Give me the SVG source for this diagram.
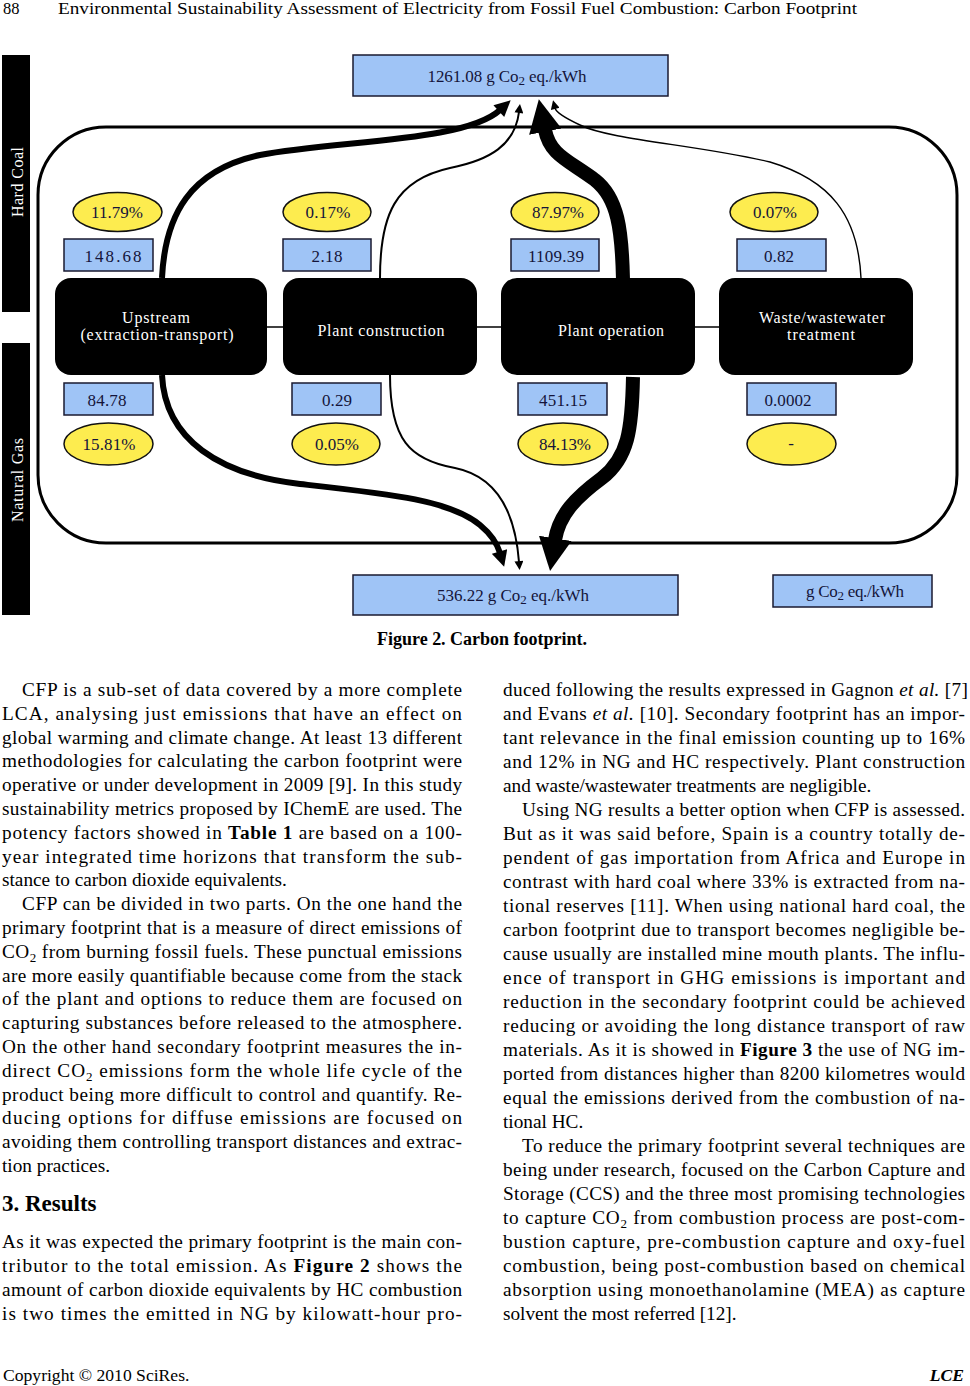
<svg xmlns="http://www.w3.org/2000/svg" width="970" height="1386" viewBox="0 0 970 1386">
<style>
.bg{fill:#ffffff}
.t{font-family:"Liberation Serif","Times New Roman",serif;font-size:19.25px;fill:#000}
.b{font-weight:bold}
.i{font-style:italic}
.sub{font-size:13px}
.hdr{font-family:"Liberation Serif","Times New Roman",serif;font-size:16.5px;fill:#000}
.cap{font-family:"Liberation Serif","Times New Roman",serif;font-size:18px;font-weight:bold;fill:#000}
.h2{font-family:"Liberation Serif","Times New Roman",serif;font-size:23px;font-weight:bold;fill:#000}
.bar{fill:#000}
.bartxt{font-family:"Liberation Serif","Times New Roman",serif;font-size:16px;fill:#fff;text-anchor:middle}
.blue{fill:#9fc4f6;stroke:#1a1a30;stroke-width:1.5}
.yel{fill:#fdec4f;stroke:#111;stroke-width:1.5}
.blk{fill:#000}
.ft{font-family:"Liberation Serif","Times New Roman",serif;font-size:17px;fill:#14143a;text-anchor:middle}
.wt{font-family:"Liberation Serif","Times New Roman",serif;font-size:16px;fill:#fff;text-anchor:middle}
.frame{fill:none;stroke:#000;stroke-width:3}
.link{fill:none;stroke:#000;stroke-width:1.5}
.c6{fill:none;stroke:#000;stroke-width:6}
.c2{fill:none;stroke:#000;stroke-width:2}
.c1{fill:none;stroke:#000;stroke-width:1.4}
.c14{fill:none;stroke:#000;stroke-width:14}
</style>
<defs>
<marker id="aBig" markerUnits="userSpaceOnUse" viewBox="0 0 10 10" refX="0.5" refY="5" markerWidth="33" markerHeight="38" orient="auto"><path d="M0,0 L10,5 L0,10 z" fill="#000"/></marker>
<marker id="aMid" markerUnits="userSpaceOnUse" viewBox="0 0 10 10" refX="1" refY="5" markerWidth="17" markerHeight="16" orient="auto"><path d="M0,0 L10,5 L0,10 z" fill="#000"/></marker>
<marker id="aSm" markerUnits="userSpaceOnUse" viewBox="0 0 10 10" refX="1" refY="5" markerWidth="11" markerHeight="9" orient="auto"><path d="M0,0 L10,5 L0,10 z" fill="#000"/></marker>
</defs>
<rect class="bg" x="0" y="0" width="970" height="1386"/>

<g id="header">
<text class="hdr" x="3" y="14">88</text>
<text class="hdr" x="58" y="14" textLength="799" lengthAdjust="spacingAndGlyphs">Environmental Sustainability Assessment of Electricity from Fossil Fuel Combustion: Carbon Footprint</text>
</g>

<g id="figure">
<g id="bar-hardcoal"><rect class="bar" x="2" y="55" width="28" height="257"/><text class="bartxt" transform="translate(23,182) rotate(-90)" textLength="70">Hard Coal</text></g>
<g id="bar-naturalgas"><rect class="bar" x="2" y="343" width="28" height="272"/><text class="bartxt" transform="translate(23,480) rotate(-90)" textLength="84">Natural Gas</text></g>

<path id="frame" class="frame" d="M106,127 H889 A68,68 0 0 1 957,195 V475 A68,68 0 0 1 889,543 H106 A68,68 0 0 1 38,475 V195 A68,68 0 0 1 106,127 Z"/>

<g id="links">
<line class="link" x1="267" y1="327" x2="283" y2="327"/>
<line class="link" x1="477" y1="327" x2="501" y2="327"/>
<line class="link" x1="695" y1="327" x2="719" y2="327"/>
</g>

<g id="connectors">
<path class="c6" d="M162,278 C165,215 190,170 260,155 C340,140 465,142 500,110" marker-end="url(#aMid)"/>
<path class="c2" d="M380,278 C380,215 395,180 450,168 C490,160 515,145 519,112" marker-end="url(#aSm)"/>
<path class="c14" d="M623,280 C622,230 618,198 595,180 C568,160 550,155 545,130" marker-end="url(#aBig)"/>
<path class="c1" d="M861,278 C858,215 830,180 770,162 C700,145 610,140 580,125 C565,118 556,112 555,108" marker-end="url(#aSm)"/>
<path class="c6" d="M162,375 C165,440 220,475 300,484 C390,494 450,500 480,525 C492,535 497,543 500,553" marker-end="url(#aMid)"/>
<path class="c2" d="M390,375 C390,440 410,460 455,468 C495,476 515,510 519,562" marker-end="url(#aSm)"/>
<path class="c14" d="M633,377 C632,430 628,458 602,478 C575,498 559,515 555,540" marker-end="url(#aBig)"/>
</g>

<g id="total-hc"><rect class="blue" x="353" y="55" width="315" height="41"/><text class="ft" x="507" y="82" textLength="159">1261.08 g Co<tspan class="sub" dy="3">2</tspan><tspan dy="-3"> eq./kWh</tspan></text></g>
<g id="total-ng"><rect class="blue" x="353" y="575" width="325" height="40"/><text class="ft" x="513" y="601" textLength="152">536.22 g Co<tspan class="sub" dy="3">2</tspan><tspan dy="-3"> eq./kWh</tspan></text></g>
<g id="legend"><rect class="blue" x="773" y="575" width="159" height="32"/><text class="ft" x="855" y="597" textLength="98">g Co<tspan class="sub" dy="3">2</tspan><tspan dy="-3"> eq./kWh</tspan></text></g>

<g id="upstream"><rect class="blk" x="55" y="278" width="212" height="97" rx="16"/><text class="wt" x="156" y="323" textLength="68">Upstream</text><text class="wt" x="157" y="340" textLength="153">(extraction-transport)</text></g>
<g id="plant-construction"><rect class="blk" x="283" y="278" width="194" height="97" rx="16"/><text class="wt" x="381" y="336" textLength="127">Plant construction</text></g>
<g id="plant-operation"><rect class="blk" x="501" y="278" width="194" height="97" rx="16"/><text class="wt" x="611" y="336" textLength="106">Plant operation</text></g>
<g id="waste"><rect class="blk" x="719" y="278" width="194" height="97" rx="16"/><text class="wt" x="822" y="323" textLength="126">Waste/wastewater</text><text class="wt" x="821" y="340" textLength="68">treatment</text></g>

<g id="hc-upstream"><ellipse class="yel" cx="117.5" cy="212" rx="44.5" ry="19.5"/><text class="ft" x="117" y="218" textLength="52">11.79%</text><rect class="blue" x="64" y="239" width="89" height="32"/><text class="ft" x="113" y="262" textLength="57">148.68</text></g>
<g id="hc-construction"><ellipse class="yel" cx="327" cy="212" rx="44" ry="19.5"/><text class="ft" x="328" y="218" textLength="45">0.17%</text><rect class="blue" x="283" y="239" width="88" height="32"/><text class="ft" x="327" y="262" textLength="31">2.18</text></g>
<g id="hc-operation"><ellipse class="yel" cx="555" cy="212" rx="44" ry="19.5"/><text class="ft" x="558" y="218" textLength="52">87.97%</text><rect class="blue" x="511" y="239" width="88" height="32"/><text class="ft" x="556" y="262" textLength="56">1109.39</text></g>
<g id="hc-waste"><ellipse class="yel" cx="774" cy="212" rx="44" ry="19.5"/><text class="ft" x="775" y="218" textLength="44">0.07%</text><rect class="blue" x="737" y="239" width="89" height="32"/><text class="ft" x="779" y="262" textLength="30">0.82</text></g>

<g id="ng-upstream"><rect class="blue" x="64" y="383" width="89" height="32"/><text class="ft" x="107" y="406" textLength="39">84.78</text><ellipse class="yel" cx="108.5" cy="444" rx="44.5" ry="21"/><text class="ft" x="109" y="450" textLength="53">15.81%</text></g>
<g id="ng-construction"><rect class="blue" x="292" y="383" width="89" height="32"/><text class="ft" x="337" y="406" textLength="30">0.29</text><ellipse class="yel" cx="336" cy="444" rx="44" ry="21"/><text class="ft" x="337" y="450" textLength="44">0.05%</text></g>
<g id="ng-operation"><rect class="blue" x="518" y="383" width="89" height="32"/><text class="ft" x="563" y="406" textLength="48">451.15</text><ellipse class="yel" cx="563" cy="444" rx="45" ry="21"/><text class="ft" x="565" y="450" textLength="52">84.13%</text></g>
<g id="ng-waste"><rect class="blue" x="747" y="383" width="89" height="32"/><text class="ft" x="788" y="406" textLength="47">0.0002</text><ellipse class="yel" cx="791.5" cy="444" rx="44.5" ry="21"/><text class="ft" x="791" y="449">-</text></g>
</g>

<text class="cap" x="377" y="645" textLength="210">Figure 2. Carbon footprint.</text>

<g id="left-column">
<text class="t" x="22" y="696" textLength="440">CFP is a sub-set of data covered by a more complete</text>
<text class="t" x="2" y="719.8" textLength="460">LCA, analysing just emissions that have an effect on</text>
<text class="t" x="2" y="743.6" textLength="460">global warming and climate change. At least 13 different</text>
<text class="t" x="2" y="767.4" textLength="460">methodologies for calculating the carbon footprint were</text>
<text class="t" x="2" y="791.2" textLength="460">operative or under development in 2009 [9]. In this study</text>
<text class="t" x="2" y="815" textLength="460">sustainability metrics proposed by IChemE are used. The</text>
<text class="t" x="2" y="838.8" textLength="460">potency factors showed in <tspan class="b">Table 1</tspan> are based on a 100-</text>
<text class="t" x="2" y="862.6" textLength="460">year integrated time horizons that transform the sub-</text>
<text class="t" x="2" y="886.4">stance to carbon dioxide equivalents.</text>
<text class="t" x="22" y="910.2" textLength="440">CFP can be divided in two parts. On the one hand the</text>
<text class="t" x="2" y="934" textLength="460">primary footprint that is a measure of direct emissions of</text>
<text class="t" x="2" y="957.8" textLength="460">CO<tspan class="sub" dy="4">2</tspan><tspan dy="-4"> from burning fossil fuels. These punctual emissions</tspan></text>
<text class="t" x="2" y="981.6" textLength="460">are more easily quantifiable because come from the stack</text>
<text class="t" x="2" y="1005.4" textLength="460">of the plant and options to reduce them are focused on</text>
<text class="t" x="2" y="1029.2" textLength="460">capturing substances before released to the atmosphere.</text>
<text class="t" x="2" y="1053" textLength="460">On the other hand secondary footprint measures the in-</text>
<text class="t" x="2" y="1076.8" textLength="460">direct CO<tspan class="sub" dy="4">2</tspan><tspan dy="-4"> emissions form the whole life cycle of the</tspan></text>
<text class="t" x="2" y="1100.6" textLength="460">product being more difficult to control and quantify. Re-</text>
<text class="t" x="2" y="1124.4" textLength="460">ducing options for diffuse emissions are focused on</text>
<text class="t" x="2" y="1148.2" textLength="460">avoiding them controlling transport distances and extrac-</text>
<text class="t" x="2" y="1172">tion practices.</text>
<text class="h2" x="2" y="1211">3. Results</text>
<text class="t" x="2" y="1248" textLength="460">As it was expected the primary footprint is the main con-</text>
<text class="t" x="2" y="1272" textLength="460">tributor to the total emission. As <tspan class="b">Figure 2</tspan> shows the</text>
<text class="t" x="2" y="1296" textLength="460">amount of carbon dioxide equivalents by HC combustion</text>
<text class="t" x="2" y="1320" textLength="460">is two times the emitted in NG by kilowatt-hour pro-</text>
</g>

<g id="right-column">
<text class="t" x="503" y="696" textLength="465">duced following the results expressed in Gagnon <tspan class="i">et al.</tspan> [7]</text>
<text class="t" x="503" y="720" textLength="462">and Evans <tspan class="i">et al.</tspan> [10]. Secondary footprint has an impor-</text>
<text class="t" x="503" y="744" textLength="462">tant relevance in the final emission counting up to 16%</text>
<text class="t" x="503" y="768" textLength="462">and 12% in NG and HC respectively. Plant construction</text>
<text class="t" x="503" y="792">and waste/wastewater treatments are negligible.</text>
<text class="t" x="522" y="816" textLength="443">Using NG results a better option when CFP is assessed.</text>
<text class="t" x="503" y="840" textLength="462">But as it was said before, Spain is a country totally de-</text>
<text class="t" x="503" y="864" textLength="462">pendent of gas importation from Africa and Europe in</text>
<text class="t" x="503" y="888" textLength="462">contrast with hard coal where 33% is extracted from na-</text>
<text class="t" x="503" y="912" textLength="462">tional reserves [11]. When using national hard coal, the</text>
<text class="t" x="503" y="936" textLength="462">carbon footprint due to transport becomes negligible be-</text>
<text class="t" x="503" y="960" textLength="462">cause usually are installed mine mouth plants. The influ-</text>
<text class="t" x="503" y="984" textLength="462">ence of transport in GHG emissions is important and</text>
<text class="t" x="503" y="1008" textLength="462">reduction in the secondary footprint could be achieved</text>
<text class="t" x="503" y="1032" textLength="462">reducing or avoiding the long distance transport of raw</text>
<text class="t" x="503" y="1056" textLength="462">materials. As it is showed in <tspan class="b">Figure 3</tspan> the use of NG im-</text>
<text class="t" x="503" y="1080" textLength="462">ported from distances higher than 8200 kilometres would</text>
<text class="t" x="503" y="1104" textLength="462">equal the emissions derived from the combustion of na-</text>
<text class="t" x="503" y="1128">tional HC.</text>
<text class="t" x="522" y="1152" textLength="443">To reduce the primary footprint several techniques are</text>
<text class="t" x="503" y="1176" textLength="462">being under research, focused on the Carbon Capture and</text>
<text class="t" x="503" y="1200" textLength="462">Storage (CCS) and the three most promising technologies</text>
<text class="t" x="503" y="1224" textLength="462">to capture CO<tspan class="sub" dy="4">2</tspan><tspan dy="-4"> from combustion process are post-com-</tspan></text>
<text class="t" x="503" y="1248" textLength="462">bustion capture, pre-combustion capture and oxy-fuel</text>
<text class="t" x="503" y="1272" textLength="462">combustion, being post-combustion based on chemical</text>
<text class="t" x="503" y="1296" textLength="462">absorption using monoethanolamine (MEA) as capture</text>
<text class="t" x="503" y="1320">solvent the most referred [12].</text>
</g>

<g id="footer">
<text class="hdr" x="3" y="1381" style="font-size:17.6px">Copyright © 2010 SciRes.</text>
<text class="hdr b i" x="964" y="1381" style="font-size:17.6px" text-anchor="end">LCE</text>
</g>
</svg>
